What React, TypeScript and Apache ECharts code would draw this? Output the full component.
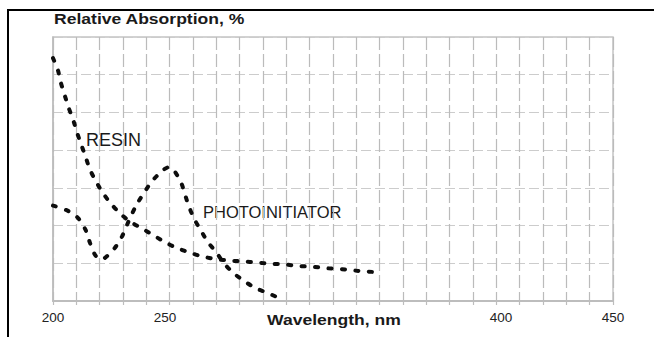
import { useEffect, useRef } from "react";
import * as echarts from "echarts";

// Resin absorption curve (wavelength nm, relative absorption %)
const resinWavelength = [200, 202.2, 203.3, 205.2, 207, 208.9, 210.7, 212.4, 214.5, 216.4, 219.1, 221.9, 225.3, 229.8, 234.3, 239.5, 244.1, 249.4, 254.8, 260.7, 266.7, 272.9, 278.9, 284.8, 290.9, 297.2, 303.4, 309.4, 315.6, 321.7, 328, 334.2, 340.2, 346.5];
const resinAbsorption = [64.4, 61.2, 58.3, 54.6, 51.2, 48.2, 44.7, 41.8, 38.3, 35, 31.8, 29, 26.2, 23.3, 21.1, 19.3, 17.7, 15.8, 14.2, 12.9, 11.8, 11.1, 10.7, 10.5, 10.2, 9.9, 9.7, 9.3, 9.1, 8.7, 8.5, 8.1, 7.8, 7.6];

// Photoinitiator absorption curve
const photoWavelength = [200, 206.7, 211.2, 214.5, 216.4, 218.6, 221, 223.1, 227.5, 230.8, 233.5, 237.2, 241.3, 244.4, 249.1, 251.4, 253.9, 257.3, 259.2, 261, 263.3, 266.3, 269.2, 272.9, 276.2, 280.4, 285.1, 290.5, 296, 301.5];
const photoAbsorption = [25.3, 23.9, 22, 18.9, 15.6, 12.4, 11.1, 11.4, 14, 17.1, 20.8, 25.4, 29.3, 31.9, 34.7, 35.4, 34.7, 31.2, 27.7, 24.6, 21.5, 18.4, 15.6, 12.9, 10.1, 7.5, 5.4, 3.4, 2.1, 0.6];

// Axis tick labels
const xTickValues = [200, 250, 400, 450];
const xMin = 200;
const xMax = 450;
const yMin = 0;
const yMax = 70;
const yStep = 10;
const gridDivisions = 24;

const titleText = "Relative Absorption, %";
const xAxisTitle = "Wavelength, nm";
const resinLabel = "RESIN";
const photoLabel = "PHOTOINITIATOR";

const FONT = '"Liberation Sans", Arial, sans-serif';

export default function App() {
  const ref = useRef<HTMLDivElement>(null);
  useEffect(() => {
    if (!ref.current) return;
    const chart = echarts.init(ref.current, undefined, { renderer: "svg" });
    const lineStyle = {
      color: "#0d0d0d",
      width: 4,
      type: [3, 10.5] as number[],
      cap: "round" as const,
    };
    chart.setOption({
      animation: false,
      backgroundColor: "#ffffff",
      grid: {
        left: 53,
        top: 37,
        width: 560,
        height: 264,
        show: true,
        borderColor: "#c4c4c4",
        borderWidth: 1.5,
        backgroundColor: "transparent",
      },
      xAxis: [
        {
          type: "value",
          min: xMin,
          max: xMax,
          position: "bottom",
          axisLine: { show: true, lineStyle: { color: "#bdbdbd", width: 2 } },
          axisTick: { show: false },
          splitLine: { show: false },
          axisLabel: {
            customValues: xTickValues,
            fontSize: 13.5,
            color: "#222",
            fontFamily: FONT,
            margin: 16,
            verticalAlign: "middle",
          },
        },
        {
          type: "value",
          min: 0,
          max: gridDivisions,
          interval: 1,
          position: "bottom",
          axisLine: { show: false },
          axisTick: { show: true, length: 4, lineStyle: { color: "#bdbdbd", width: 1.2 } },
          axisLabel: { show: false },
          splitLine: { show: true, lineStyle: { color: "#bbbbbb", type: [13, 4], width: 1.2 } },
        },
      ],
      yAxis: {
        type: "value",
        min: yMin,
        max: yMax,
        interval: yStep,
        axisLine: { show: true, lineStyle: { color: "#bdbdbd", width: 1.5 } },
        axisTick: { show: false },
        axisLabel: { show: false },
        splitLine: { show: true, lineStyle: { color: "#cccccc", type: [10, 4], width: 1.2 } },
      },
      series: [
        {
          name: "Resin",
          type: "line",
          xAxisIndex: 0,
          data: resinWavelength.map((w, i) => [w, resinAbsorption[i]]),
          showSymbol: false,
          smooth: 0.3,
          lineStyle,
          z: 5,
        },
        {
          name: "Photoinitiator",
          type: "line",
          xAxisIndex: 0,
          data: photoWavelength.map((w, i) => [w, photoAbsorption[i]]),
          showSymbol: false,
          smooth: 0.3,
          lineStyle,
          z: 5,
        },
      ],
      graphic: [
        {
          type: "rect",
          silent: true,
          shape: { x: 8, y: 10, width: 700, height: 400 },
          style: { fill: "none", stroke: "#000", lineWidth: 2 },
        },
        {
          type: "text",
          x: 54,
          y: 18,
          scaleX: 1.17,
          style: {
            text: titleText,
            fill: "#1a1a1a",
            fontSize: 15,
            fontWeight: "bold",
            fontFamily: FONT,
            verticalAlign: "middle",
            textVerticalAlign: "middle",
          },
        },
        {
          type: "text",
          x: 267,
          y: 319,
          scaleX: 1.17,
          style: {
            text: xAxisTitle,
            fill: "#1a1a1a",
            fontSize: 15,
            fontWeight: "bold",
            fontFamily: FONT,
            verticalAlign: "middle",
            textVerticalAlign: "middle",
          },
        },
        {
          type: "text",
          x: 86,
          y: 140,
          style: {
            text: resinLabel,
            fill: "#1a1a1a",
            fontSize: 18,
            fontFamily: FONT,
            verticalAlign: "middle",
            textVerticalAlign: "middle",
          },
        },
        {
          type: "text",
          x: 203,
          y: 212,
          style: {
            text: photoLabel,
            fill: "#1a1a1a",
            fontSize: 16.5,
            fontFamily: FONT,
            verticalAlign: "middle",
            textVerticalAlign: "middle",
          },
        },
      ],
    });
    return () => chart.dispose();
  }, []);
  return (
    <div
      ref={ref}
      style={{ position: "fixed", left: 0, top: 0, width: 654, height: 337 }}
    />
  );
}
